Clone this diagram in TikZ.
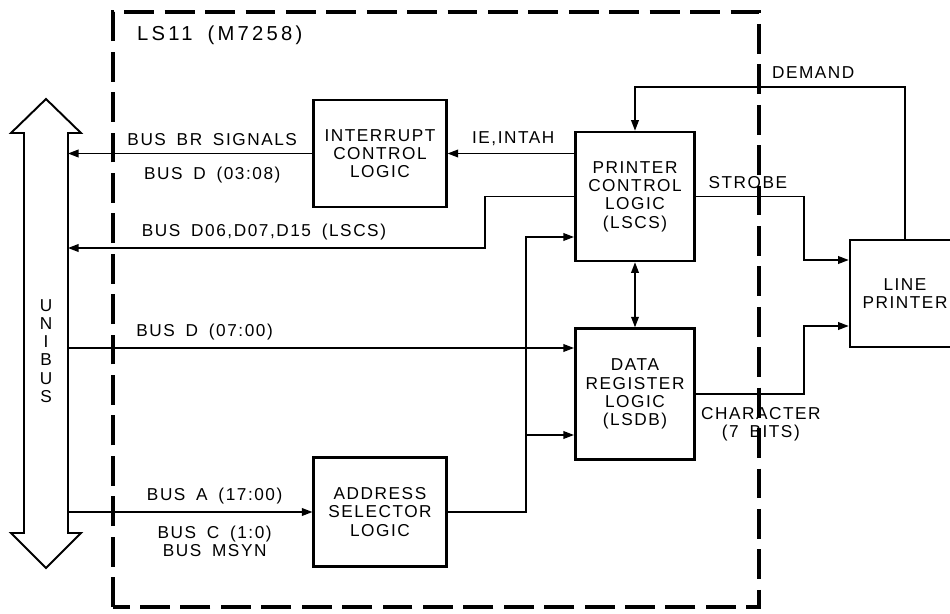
\documentclass[tikz,border=0pt]{standalone}
\usepackage{fontspec}
\setmainfont{Liberation Sans}[LetterSpace=9, WordSpace=1.7]
\usetikzlibrary{positioning,arrows.meta}

\begin{document}
\begin{tikzpicture}[
    >={Triangle[length=6pt,width=4.4pt]},
    font=\fontsize{9.8}{10.4}\selectfont,
    every node/.style={align=center},
    block/.style={draw, rectangle, line width=1.5pt, inner sep=0pt},
    sig/.style={line width=0.75pt},
    board/.style={line width=2.2pt, dash pattern=on 17pt off 6pt}
]
\useasboundingbox (0,0) rectangle (19,12.26);

% Board outline
\draw[board] (2.26,0.12) rectangle (15.18,12.02);
\node[anchor=west, font=\addfontfeature{LetterSpace=16}\fontsize{11.5}{12}\selectfont] (ls11) at (2.62,11.56) {LS11 (M7258)};

% Unibus
\draw[line width=1.1pt]
    (0.48,9.60) -- (0.22,9.60) -- (0.92,10.28) -- (1.62,9.60) -- (1.36,9.60)
    -- (1.36,1.60) -- (1.62,1.60) -- (0.92,0.90) -- (0.22,1.60) -- (0.48,1.60) -- cycle;
\node (unibus) at (0.92,5.24) {U\\N\\I\\B\\U\\S};

% Bend points
\coordinate (ub) at (1.36,0);
\coordinate (tap) at (9.70,0);
\coordinate (fork) at (10.52,0);
\coordinate (jog) at (16.08,0);

% Nodes
\node[
    block,
    minimum width=2.65cm,
    minimum height=2.14cm
] (intr) at (7.60,9.19) {INTERRUPT\\CONTROL\\LOGIC};

\node[
    block,
    minimum width=2.39cm,
    minimum height=2.58cm
] (pcl) at (12.70,8.33) {PRINTER\\CONTROL\\LOGIC\\(LSCS)};

\node[
    block,
    minimum width=2.39cm,
    minimum height=2.62cm,
    below=1.3cm of pcl
] (dr) {DATA\\REGISTER\\LOGIC\\(LSDB)};

\node[
    block,
    minimum width=2.65cm,
    minimum height=2.18cm
] (asl) at (7.60,2.02) {ADDRESS\\SELECTOR\\LOGIC};

\node[
    block,
    minimum width=2.2cm,
    minimum height=2.14cm
] (lp) at (18.10,6.39) {LINE\\PRINTER};

% Unibus side
\draw[sig, ->] (intr.west)
    -- node[above=1pt, pos=0.41] (brsig) {BUS BR SIGNALS}
       node[below=4pt, pos=0.41] (brd) {BUS D (03:08)}
    (ub |- intr.west);

\draw[sig, ->] (pcl.west |- intr.east)
    -- node[above=1pt, pos=0.48] (ieint) {IE,INTAH}
    (intr.east);

\draw[sig, ->] (pcl.west) -- (pcl.west -| tap) -- (tap |- 0,7.30)
    -- node[above=1pt, pos=0.53] (lscs) {BUS D06,D07,D15 (LSCS)}
    (ub |- 0,7.30);

\draw[sig, ->] (ub |- 0,5.30)
    -- node[above=1pt, pos=0.27] (busd) {BUS D (07:00)}
    (dr.west |- 0,5.30);

\draw[sig, ->] (ub |- asl.west)
    -- node[above=1pt, pos=0.60] (busa) {BUS A (17:00)}
       node[below=4pt, pos=0.60] (busc) {BUS C (1:0)\\BUS MSYN}
    (asl.west);

% Address fan-out
\draw[sig, ->] (asl.east) -| (fork |- 0,7.52) -- (pcl.west |- 0,7.52);
\draw[sig, ->] (fork |- 0,3.56) -- (dr.west |- 0,3.56);
\draw[sig, <->] (pcl.south) -- (dr.north);

% Printer side
\draw[sig, ->] (lp.north) -- (lp.north |- 0,10.52)
    -- node[above=1pt, pos=0.34] (demand) {DEMAND}
    (pcl.north |- 0,10.52) -- (pcl.north);

\draw[sig, ->] (pcl.east)
    -- node[above=1pt, pos=0.48] (strobe) {STROBE}
    (pcl.east -| jog) |- (lp.west |- 0,7.06);

\draw[sig, ->] (dr.east)
    -- node[below=4pt, pos=0.60] (char) {CHARACTER\\(7 BITS)}
    (dr.east -| jog) |- (lp.west |- 0,5.74);

\end{tikzpicture}
\end{document}
